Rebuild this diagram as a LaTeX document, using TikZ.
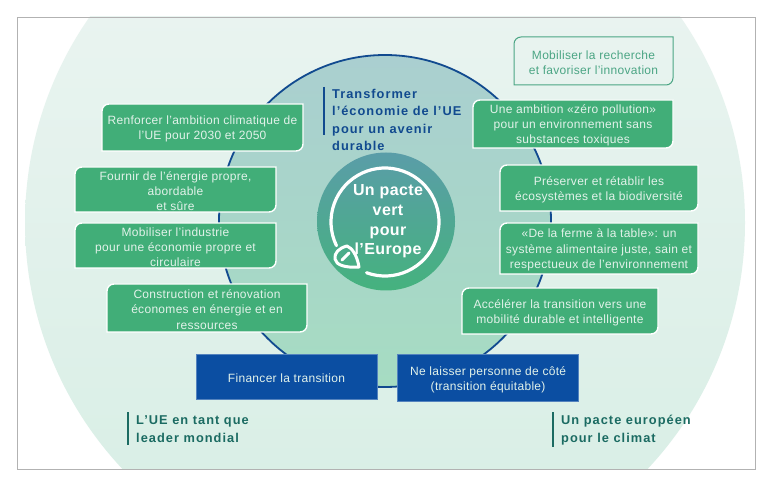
\documentclass[tikz,border=0pt]{standalone}
\usepackage{fontspec}
\setmainfont{Liberation Sans}[LetterSpace=2.5]
\newfontfamily\headfont{Liberation Sans}[LetterSpace=8]
\usetikzlibrary{calc,positioning}
\definecolor{panelgreen}{HTML}{41AE78}
\definecolor{paneltext}{HTML}{E2F2EA}
\definecolor{eublue}{HTML}{0B4EA2}
\definecolor{ringblue}{HTML}{114A8F}
\definecolor{tealtext}{HTML}{1B6B62}
\definecolor{outertop}{HTML}{EEF5F3}
\definecolor{outerbot}{HTML}{D6EEE4}
\definecolor{middletop}{HTML}{AACFD0}
\definecolor{middlebot}{HTML}{A6DCC2}
\definecolor{innertop}{HTML}{5A9DA8}
\definecolor{innerbot}{HTML}{45B27E}
\definecolor{outlinegreen}{HTML}{4BA584}
% panel with two rounded corners, text node on top
\newcommand{\leafpanel}[7][gpanel]{%
  \path[#1] (#3,#6) [rounded corners=7pt] -- (#3,#4) [sharp corners] -- (#5,#4) [rounded corners=7pt] -- (#5,#6) [sharp corners] -- cycle;
  \node[ptext, yshift=-1.5pt] (#2) at ($(#3,#4)!0.5!(#5,#6)$) {#7};}
\tikzset{
  gpanel/.style={fill=panelgreen, draw=white, line width=1.4pt},
  wpanel/.style={fill=none, draw=outlinegreen, line width=1pt},
  ptext/.style={align=center, inner sep=0pt, text=paneltext, font=\fontsize{12}{15.2}\selectfont},
  bpanel/.style={ptext, fill=eublue, draw=eublue!70!white, line width=.6pt, inner sep=0pt}
}
\begin{document}
\begin{tikzpicture}[x=1pt,y=1pt]
  \tikzstyle{rnode} = [inner sep=0pt, align=left, font=\fontsize{12.8}{17.5}\headfont\bfseries]
  \tikzstyle{bar} = [line width=1.4pt]
  \useasboundingbox (0,0) rectangle (768,490);
  \fill[white] (0,0) rectangle (768,490);
  \begin{scope}
    \clip (17,21) rectangle (755,473);
    \node[circle, minimum size=720pt, inner sep=0pt, top color=outertop, bottom color=outerbot] (outer) at (385,267.3) {};
  \end{scope}
  \draw[black!30, line width=.9pt] (17,21) rectangle (755,473);

  \node[circle, minimum size=332pt, inner sep=0pt, draw=ringblue, line width=1.8pt, top color=middletop, bottom color=middlebot] (middle) at (385,269) {};
  \node[circle, minimum size=138pt, inner sep=0pt, top color=innertop, bottom color=innerbot] (inner) at (386,268.5) {};
  \draw[white, line width=3.2pt, line cap=round] ($(385,268)+(250:54)$) arc (250:566:54);
  \draw[white, line width=3pt, line join=round] (359,223) .. controls (357,235) and (352,242) .. (347,244) .. controls (339,242) and (334,237) .. (335,231) .. controls (336,225) and (345,222) .. (359,223) -- cycle;
  \draw[white, line width=3pt, line cap=round] (342,230) -- (349,237);
  \node[align=center, inner sep=0pt, text=white, font=\fontsize{16}{19.7}\selectfont\bfseries] (pacte) at (388,268.5) {Un pacte\\vert\\pour\\l’Europe};

  % left column
  \leafpanel{renforcer}{102}{386}{303}{339}{Renforcer l'ambition climatique de\\l'UE pour 2030 et 2050}
  \leafpanel{fournir}{75}{323}{276}{278}{Fournir de l'énergie propre,\\abordable\\et sûre}
  \leafpanel{industrie}{75}{267}{276}{222}{Mobiliser l'industrie\\pour une économie propre et\\circulaire}
  \leafpanel{construction}{107}{206}{307}{158}{Construction et rénovation\\économes en énergie et en\\ressources}

  % right column
  \leafpanel[wpanel]{recherche}{514}{453}{673}{405}{\color{outlinegreen}Mobiliser la recherche\\\color{outlinegreen}et favoriser l'innovation}
  \leafpanel{ambition}{473}{390}{673}{342}{Une ambition «zéro pollution»\\pour un environnement sans\\substances toxiques}
  \leafpanel{preserver}{500}{325}{698}{279}{Préserver et rétablir les\\écosystèmes et la biodiversité}
  \leafpanel{ferme}{500}{267}{698}{216}{«De la ferme à la table»: un\\système alimentaire juste, sain et\\respectueux de l'environnement}
  \leafpanel{mobilite}{462}{202}{658}{156}{Accélérer la transition vers une\\mobilité durable et intelligente}

  % bottom
  \node[bpanel, minimum width=181pt, minimum height=45pt] (financer) at (286.5,113.5) {\rule{0pt}{12pt}Financer la transition};
  \node[bpanel, minimum width=181pt, minimum height=47pt, right = 20 of financer.south east, anchor=south west, yshift=-2pt] (laisser) {\rule{0pt}{14pt}Ne laisser personne de côté\\(transition équitable)};

  % headings with a side bar
  \node[rnode, anchor=north west, text=ringblue] (transformer) at (332,401) {Transformer\\l’économie de l’UE\\pour un avenir\\durable};
  \draw[bar, ringblue] (324,403) -- (324,355);
  \node[rnode, anchor=north west, text=tealtext] (leader) at (136,74.5) {L’UE en tant que\\leader mondial};
  \draw[bar, tealtext] (128,78) -- (128,45);
  \node[rnode, anchor=north west, text=tealtext] (climat) at (561,75) {Un pacte européen\\pour le climat};
  \draw[bar, tealtext] (553,78) -- (553,43);
\end{tikzpicture}
\end{document}
